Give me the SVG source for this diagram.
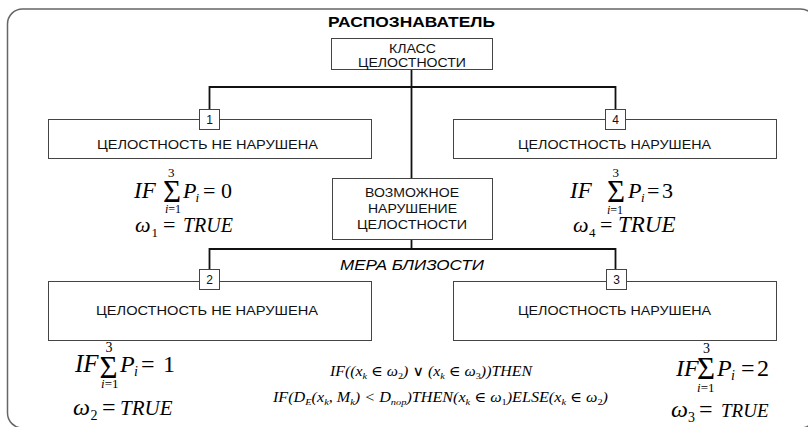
<svg xmlns="http://www.w3.org/2000/svg" width="808" height="427" viewBox="0 0 808 427">
<style>
.frame{fill:none;stroke:#666;stroke-width:1.5}
.box{fill:#fff;stroke:#444;stroke-width:1}
.conn{fill:none;stroke:#111;stroke-width:1.8}
.t{font-family:"Liberation Sans",Arial,sans-serif;font-size:12px;fill:#111;text-anchor:middle}
.title{font-family:"Liberation Sans",Arial,sans-serif;font-size:15px;font-weight:bold;fill:#000;text-anchor:middle}
.mera{font-family:"Liberation Sans",Arial,sans-serif;font-size:14px;font-style:italic;fill:#000;text-anchor:middle}
.m{font-family:"Liberation Serif","Times New Roman","DejaVu Serif",serif;font-style:italic;fill:#000}
.r{font-style:normal}
</style>
<rect class="frame" x="7.5" y="9" width="808" height="419" rx="15" ry="15"/>
<text class="title" x="411.5" y="27" textLength="167" lengthAdjust="spacingAndGlyphs">РАСПОЗНАВАТЕЛЬ</text>

<g id="connectors">
<path class="conn" d="M411.5 70 V178"/>
<path class="conn" d="M209.5 109 V87 H615.5 V109"/>
<path class="conn" d="M411.5 240 V249"/>
<path class="conn" d="M209.5 269 V249 H615.5 V269"/>
</g>

<g id="node-class">
<rect class="box" x="331.5" y="38.5" width="161" height="31"/>
<text class="t" x="412.5" y="52.5" textLength="47" lengthAdjust="spacingAndGlyphs">КЛАСС</text>
<text class="t" x="412" y="66.5" textLength="108" lengthAdjust="spacingAndGlyphs">ЦЕЛОСТНОСТИ</text>
</g>

<g id="node-1">
<rect class="box" x="48.5" y="119.5" width="323" height="39"/>
<text class="t" x="207.5" y="149" textLength="221" lengthAdjust="spacingAndGlyphs">ЦЕЛОСТНОСТЬ НЕ НАРУШЕНА</text>
<rect class="box" x="199.5" y="109.5" width="20" height="20"/>
<text class="t" x="209.5" y="124">1</text>
</g>

<g id="node-4">
<rect class="box" x="453.5" y="119.5" width="323" height="39"/>
<text class="t" x="614.5" y="149" textLength="193" lengthAdjust="spacingAndGlyphs">ЦЕЛОСТНОСТЬ НАРУШЕНА</text>
<rect class="box" x="605.5" y="109.5" width="20" height="20"/>
<text class="t" x="615.5" y="124">4</text>
</g>

<g id="node-possible">
<rect class="box" x="332.5" y="178.5" width="160" height="61"/>
<text class="t" x="412" y="197" textLength="94" lengthAdjust="spacingAndGlyphs">ВОЗМОЖНОЕ</text>
<text class="t" x="412.5" y="213" textLength="89" lengthAdjust="spacingAndGlyphs">НАРУШЕНИЕ</text>
<text class="t" x="412" y="228.5" textLength="110" lengthAdjust="spacingAndGlyphs">ЦЕЛОСТНОСТИ</text>
</g>

<text class="mera" x="412" y="270" textLength="144" lengthAdjust="spacingAndGlyphs">МЕРА БЛИЗОСТИ</text>

<g id="node-2">
<rect class="box" x="48.5" y="281.5" width="323" height="59"/>
<text class="t" x="207" y="315" textLength="222" lengthAdjust="spacingAndGlyphs">ЦЕЛОСТНОСТЬ НЕ НАРУШЕНА</text>
<rect class="box" x="199.5" y="269.5" width="20" height="20"/>
<text class="t" x="209.5" y="284">2</text>
</g>

<g id="node-3">
<rect class="box" x="453.5" y="281.5" width="323" height="59"/>
<text class="t" x="614.5" y="315" textLength="193" lengthAdjust="spacingAndGlyphs">ЦЕЛОСТНОСТЬ НАРУШЕНА</text>
<rect class="box" x="606.5" y="269.5" width="20" height="20"/>
<text class="t" x="616.5" y="284">3</text>
</g>

<g id="formula-1">
<text class="m" font-size="22"><tspan x="134" y="198" font-size="23">IF</tspan><tspan class="r" x="163" y="202" font-size="31">Σ</tspan><tspan class="r" x="168" y="177" font-size="13">3</tspan><tspan x="165" y="213" font-size="12">i</tspan><tspan class="r" font-size="12">=1</tspan><tspan x="183" y="198">P</tspan><tspan x="195.5" y="202" font-size="13">i</tspan><tspan class="r" x="203" y="198">=</tspan><tspan class="r" x="221" y="198">0</tspan></text>
<text class="m" font-size="22"><tspan x="135" y="232">ω</tspan><tspan class="r" x="151.5" y="237" font-size="13">1</tspan><tspan class="r" x="163" y="232">=</tspan><tspan x="183" y="232" font-size="20">TRUE</tspan></text>
</g>

<g id="formula-4">
<text class="m" font-size="22"><tspan x="570" y="198" font-size="23">IF</tspan><tspan class="r" x="607" y="202" font-size="31">Σ</tspan><tspan class="r" x="612.5" y="177" font-size="13">3</tspan><tspan x="607" y="214" font-size="12">i</tspan><tspan class="r" font-size="12">=1</tspan><tspan x="628" y="198">P</tspan><tspan x="641" y="202" font-size="13">i</tspan><tspan class="r" x="647" y="198">=</tspan><tspan class="r" x="662" y="198">3</tspan></text>
<text class="m" font-size="22"><tspan x="573" y="232">ω</tspan><tspan class="r" x="589" y="237" font-size="13">4</tspan><tspan class="r" x="600" y="232">=</tspan><tspan x="618" y="232" font-size="23">TRUE</tspan></text>
</g>

<g id="formula-2">
<text class="m" font-size="24"><tspan x="75" y="372" font-size="25">IF</tspan><tspan class="r" x="99.5" y="378" font-size="31">Σ</tspan><tspan class="r" x="105.5" y="352" font-size="14">3</tspan><tspan x="101" y="388" font-size="13">i</tspan><tspan class="r" font-size="13">=1</tspan><tspan x="120" y="372">P</tspan><tspan x="134" y="376" font-size="14">i</tspan><tspan class="r" x="141" y="372">=</tspan><tspan class="r" x="163" y="372">1</tspan></text>
<text class="m" font-size="24"><tspan x="73" y="415">ω</tspan><tspan class="r" x="90.5" y="420" font-size="14">2</tspan><tspan class="r" x="102" y="415">=</tspan><tspan x="120" y="415" font-size="21">TRUE</tspan></text>
</g>

<g id="formula-3">
<text class="m" font-size="24"><tspan x="676" y="376">IF</tspan><tspan class="r" x="697" y="379" font-size="31">Σ</tspan><tspan class="r" x="703" y="353" font-size="14">3</tspan><tspan x="697" y="392" font-size="13">i</tspan><tspan class="r" font-size="13">=1</tspan><tspan x="717" y="376">P</tspan><tspan x="731" y="380" font-size="14">i</tspan><tspan class="r" x="741" y="376">=</tspan><tspan class="r" x="757" y="376">2</tspan></text>
<text class="m" font-size="24"><tspan x="671" y="417">ω</tspan><tspan class="r" x="688" y="422" font-size="14">3</tspan><tspan class="r" x="699" y="417">=</tspan><tspan x="721" y="417" font-size="19">TRUE</tspan></text>
</g>

<g id="formula-rule">
<text class="m" x="330" y="376" font-size="14" textLength="202" lengthAdjust="spacingAndGlyphs">IF((x<tspan font-size="9" dy="3">k</tspan><tspan dy="-3"> ∈ ω</tspan><tspan class="r" font-size="9" dy="3">2</tspan><tspan dy="-3">) ∨ (x</tspan><tspan font-size="9" dy="3">k</tspan><tspan dy="-3"> ∈ ω</tspan><tspan class="r" font-size="9" dy="3">3</tspan><tspan dy="-3">))THEN</tspan></text>
<text class="m" x="273" y="402" font-size="14" textLength="335" lengthAdjust="spacingAndGlyphs">IF(D<tspan font-size="9" dy="3">E</tspan><tspan dy="-3">(x</tspan><tspan font-size="9" dy="3">k</tspan><tspan dy="-3">, M</tspan><tspan font-size="9" dy="3">k</tspan><tspan dy="-3">) &lt; D</tspan><tspan font-size="9" dy="3">пор</tspan><tspan dy="-3">)THEN(x</tspan><tspan font-size="9" dy="3">k</tspan><tspan dy="-3"> ∈ ω</tspan><tspan class="r" font-size="9" dy="3">1</tspan><tspan dy="-3">)ELSE(x</tspan><tspan font-size="9" dy="3">k</tspan><tspan dy="-3"> ∈ ω</tspan><tspan class="r" font-size="9" dy="3">2</tspan><tspan dy="-3">)</tspan></text>
</g>
</svg>
